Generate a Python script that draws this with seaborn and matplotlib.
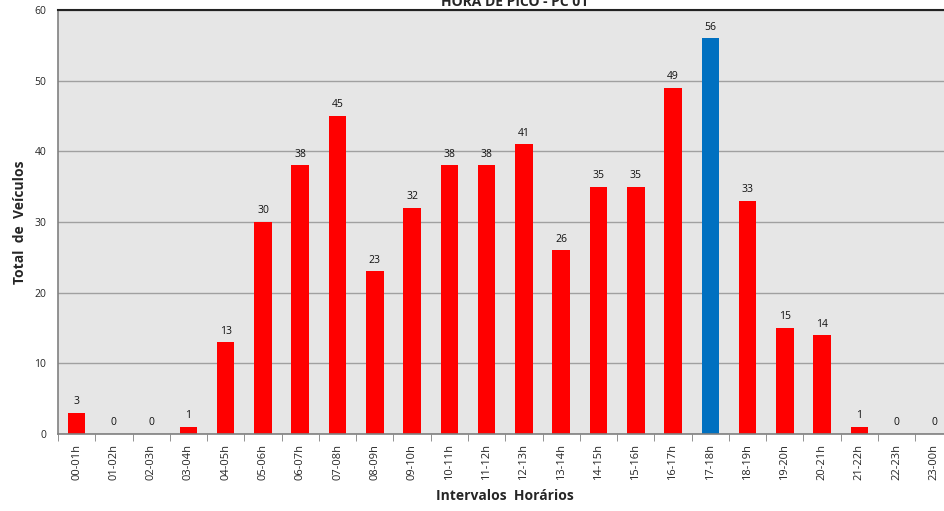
import matplotlib
matplotlib.use("Agg")
import matplotlib.pyplot as plt
import seaborn as sns
import numpy as np
import pandas as pd
from matplotlib.ticker import MultipleLocator, FixedLocator

intervalos = ["00-01h", "01-02h", "02-03h", "03-04h", "04-05h", "05-06h",
              "06-07h", "07-08h", "08-09h", "09-10h", "10-11h", "11-12h",
              "12-13h", "13-14h", "14-15h", "15-16h", "16-17h", "17-18h",
              "18-19h", "19-20h", "20-21h", "21-22h", "22-23h", "23-00h"]
veiculos = [3, 0, 0, 1, 13, 30, 38, 45, 23, 32, 38, 38,
            41, 26, 35, 35, 49, 56, 33, 15, 14, 1, 0, 0]

df = pd.DataFrame({"intervalo": intervalos, "total": veiculos})
pico = df["total"].max()
df["tipo"] = np.where(df["total"] == pico, "pico", "normal")

sns.set_style("white")
plt.rcParams["font.family"] = ["Open Sans", "DejaVu Sans"]

fig = plt.figure(figsize=(9.44, 5.11), dpi=100)
ax = fig.add_axes([0.0614, 0.1507, 0.9477, 0.8297])
ax.set_facecolor("#E6E6E6")

sns.barplot(data=df, x="intervalo", y="total", hue="tipo",
            palette={"normal": "#FF0000", "pico": "#0070C0"},
            width=0.47, dodge=False, legend=False, saturation=1,
            linewidth=0, ax=ax)

for cont in ax.containers:
    ax.bar_label(cont, fmt="%d", padding=4, fontsize=7.5, color="#111111")

ax.set_ylim(0, 60)
ax.set_xlim(-0.5, len(intervalos) - 0.5)
ax.yaxis.set_major_locator(MultipleLocator(10))
ax.yaxis.set_minor_locator(MultipleLocator(2))
ax.grid(axis="y", which="major", color="#A0A0A0", linewidth=1)
ax.set_axisbelow(True)

ax.xaxis.set_minor_locator(FixedLocator(np.arange(-0.5, len(intervalos), 1)))
ax.tick_params(axis="x", which="major", length=0, labelsize=8, rotation=90, pad=7)
ax.tick_params(axis="x", which="minor", length=5, color="#808080", direction="out", bottom=True)
ax.tick_params(axis="y", which="major", length=5, color="#808080", labelsize=7.5, direction="out")
ax.tick_params(axis="y", which="minor", length=3, color="#808080", direction="out")

for s in ["left", "bottom"]:
    ax.spines[s].set_color("#808080")
    ax.spines[s].set_linewidth(1.2)
ax.spines["top"].set_color("#222222")
ax.spines["top"].set_linewidth(1.5)
ax.spines["right"].set_visible(False)

ax.set_xlabel("Intervalos  Horários", fontsize=10, fontweight="bold", labelpad=7)
ax.set_ylabel("Total  de  Veículos", fontsize=10, fontweight="bold", labelpad=5)

fig.text(0.5455, 0.988, "HORA DE PICO - PC 01", ha="center", va="baseline",
         fontsize=10, fontweight="bold")

fig.savefig("out.png", dpi=100)
